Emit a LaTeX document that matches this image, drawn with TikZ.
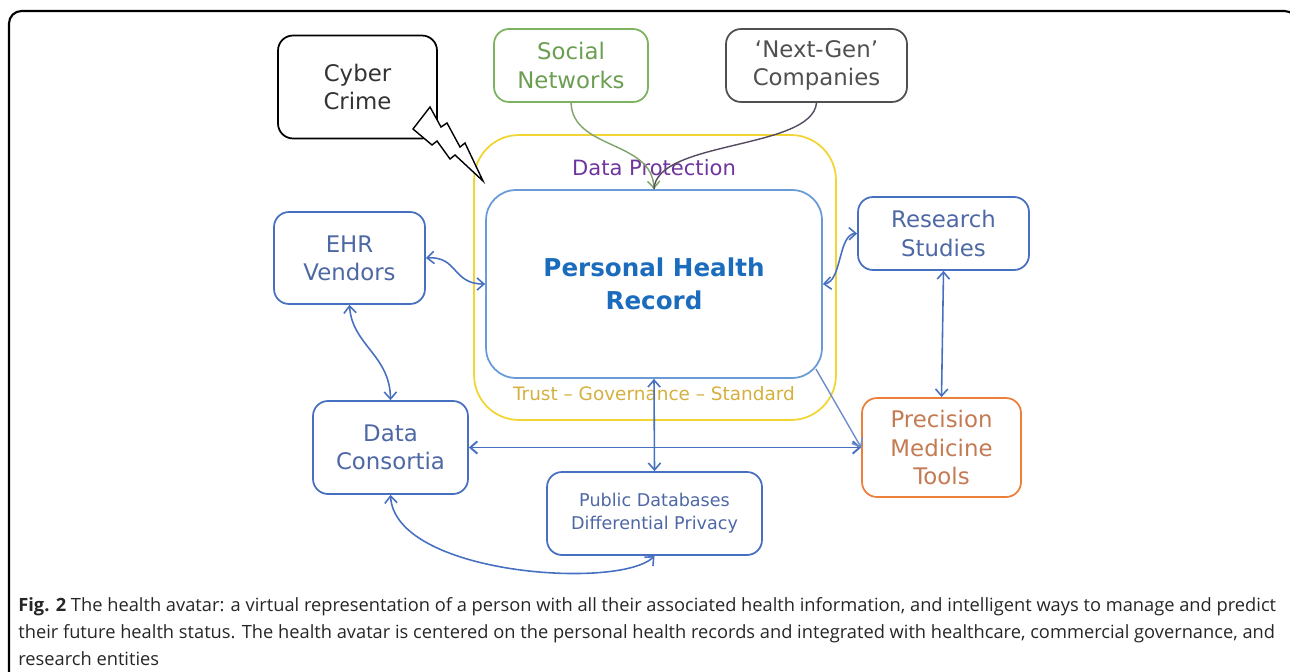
\documentclass[tikz,border=0pt]{standalone}
\usepackage{fontspec}
\setmainfont{DejaVu Sans}
\newfontfamily\capfont{Open Sans}
\usetikzlibrary{arrows.meta}

\definecolor{boxblue}{RGB}{72,112,192}
\definecolor{txtblue}{RGB}{78,104,165}
\definecolor{phrline}{RGB}{105,155,215}
\definecolor{phrtext}{RGB}{28,108,190}
\definecolor{socgreen}{RGB}{125,178,95}
\definecolor{soctext}{RGB}{108,158,82}
\definecolor{darkgray}{RGB}{80,80,80}
\definecolor{trustyel}{RGB}{242,212,50}
\definecolor{trusttext}{RGB}{212,176,62}
\definecolor{protpurple}{RGB}{112,52,158}
\definecolor{precorange}{RGB}{236,128,58}
\definecolor{prectext}{RGB}{196,122,82}

\begin{document}
\begin{tikzpicture}[x=0.02cm, y=-0.02cm,
    >={Straight Barb[length=4pt,width=7pt]},
    every node/.style={font=\fontsize{13}{16}\selectfont, align=center},
    box/.style={draw, rounded corners=0.3cm, line width=1pt, inner sep=0pt},
    bluebox/.style={box, draw=boxblue, text=txtblue},
    link/.style={<->, boxblue, line width=0.9pt}]
    \useasboundingbox (0,0) rectangle (1290,672);
    \clip (0,0) rectangle (1290,672);

    % Rahmen
    \draw[line width=1.2pt, rounded corners=0.25cm] (9,11) rectangle (1297,700);

    % Zentrum
    \node[box, draw=trustyel, rounded corners=0.9cm, minimum width=7.24cm, minimum height=5.7cm]
        (trust) at (655,277.5) {};
    \node[box, draw=phrline, rounded corners=0.6cm, minimum width=6.72cm, minimum height=3.76cm,
        text=phrtext, font=\fontsize{14}{19}\selectfont\bfseries]
        (phr) at (654,284) {Personal Health\\Record};
    \node[text=protpurple, font=\fontsize{12}{14}\selectfont] (prot) at (654,168) {Data Protection};
    \node[text=trusttext, font=\fontsize{10.5}{13}\selectfont] (tgs) at (654,394)
        {Trust -- Governance -- Standard};

    % obere Reihe
    \node[box, draw=black, text=black!80, minimum width=3.18cm, minimum height=2.06cm]
        (cyber) at (357.5,87) {Cyber\\Crime};
    \node[box, draw=socgreen, text=soctext, minimum width=3.08cm, minimum height=1.46cm]
        (social) at (571,65.5) {Social\\Networks};
    \node[box, draw=darkgray, text=darkgray, minimum width=3.62cm, minimum height=1.46cm]
        (nextgen) at (816.5,65.5) {`Next-Gen'\\Companies};

    % Blitz
    \draw[fill=white, line width=0.8pt] (430,107) -- (441,127) -- (447,123) -- (460,147)
        -- (465,143) -- (483,181) -- (455,155) -- (450,159) -- (437,141) -- (432,145)
        -- (413,129) -- cycle;

    % seitliche Knoten
    \node[bluebox, minimum width=3.02cm, minimum height=1.84cm] (ehr) at (349.5,258) {EHR\\Vendors};
    \node[bluebox, minimum width=3.42cm, minimum height=1.46cm] (research) at (943.5,233.5) {Research\\Studies};
    \node[bluebox, minimum width=3.1cm, minimum height=1.86cm] (consortia) at (390.5,447.5) {Data\\Consortia};
    \node[box, draw=precorange, text=prectext, minimum width=3.18cm, minimum height=1.98cm]
        (precision) at (941.5,447.5) {Precision\\Medicine\\Tools};
    \node[bluebox, minimum width=4.3cm, minimum height=1.66cm, font=\fontsize{10}{13}\selectfont]
        (public) at (654.5,513.5) {Public Databases\\Differential Privacy};

    % Verbindungen
    \draw[->, socgreen!70!gray, line width=0.8pt] (social.south) .. controls (573,150) and (652,140) .. (phr.north);
    \draw[darkgray!80!protpurple, line width=0.8pt] (nextgen.south) .. controls (812,150) and (656,140) .. (phr.north);
    \draw[link] (ehr.east) .. controls (458,256) and (452,284) .. (phr.west);
    \draw[link] (research.west) .. controls (838,234) and (842,282) .. (phr.east);
    \draw[link] (ehr.south) .. controls (352,345) and (390,355) .. (consortia.north);
    \draw[link] (research.south) -- (precision.north);
    \draw[link, line width=1.1pt] (consortia.east) -- (precision.west);
    \draw[link] (phr.south) -- (public.north);
    \draw[->, boxblue!80, line width=0.8pt] ([shift={(-7,-10)}]phr.south east) -- (precision.west);
    \draw[link] (consortia.south) .. controls (395,575) and (620,590) .. (public.south);

    % Bildunterschrift
    \node[anchor=north west, align=left, inner sep=0pt, text=black!85,
        font=\capfont\fontsize{10.4}{15.3}\selectfont] (caption) at (18,597)
        {\textbf{Fig. 2} The health avatar: a virtual representation of a person with all their associated health information, and intelligent ways to manage and predict\\
         their future health status. The health avatar is centered on the personal health records and integrated with healthcare, commercial governance, and\\
         research entities};
\end{tikzpicture}
\end{document}
